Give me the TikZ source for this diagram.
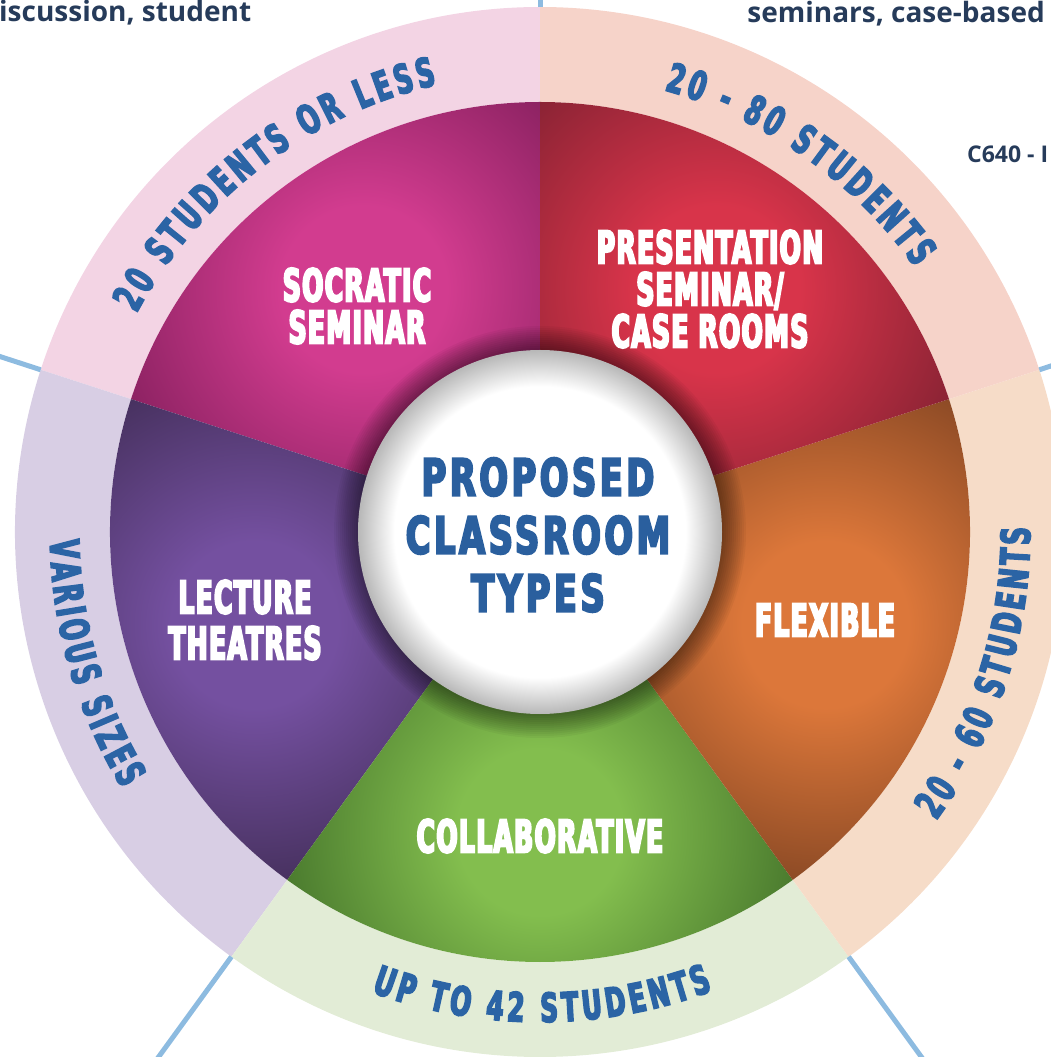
\documentclass[tikz,border=0pt]{standalone}
\usepackage{fontspec}
\usetikzlibrary{decorations.text}

\newfontfamily\wedgefont{DejaVu Sans}[FakeStretch=0.555, FakeBold=4.5, LetterSpace=3]
\newfontfamily\hubfont{DejaVu Sans}[FakeStretch=0.66, FakeBold=4, LetterSpace=7]
\newfontfamily\ringfont{DejaVu Sans}[FakeStretch=0.62, FakeBold=4]
\newfontfamily\notefont{Open Sans}

\definecolor{socraticlight}{HTML}{D23C8F}
\definecolor{socraticdark}{HTML}{8C2262}
\definecolor{presentlight}{HTML}{D8344A}
\definecolor{presentdark}{HTML}{8A2334}
\definecolor{flexlight}{HTML}{DC773A}
\definecolor{flexdark}{HTML}{8C4A25}
\definecolor{collablight}{HTML}{83BE4E}
\definecolor{collabdark}{HTML}{4A7A2E}
\definecolor{lecturelight}{HTML}{7450A0}
\definecolor{lecturedark}{HTML}{47315F}
\definecolor{ringpink}{HTML}{F3D4E4}
\definecolor{ringpeach}{HTML}{F6D3C9}
\definecolor{ringorange}{HTML}{F6DCC8}
\definecolor{ringgreen}{HTML}{E2ECD6}
\definecolor{ringlavender}{HTML}{D8CEE4}
\definecolor{hubblue}{HTML}{2A5F9E}
\definecolor{ringblue}{HTML}{2B64A5}
\definecolor{notenavy}{HTML}{263B5A}
\definecolor{spokeblue}{HTML}{8DBBE0}

\pgfdeclareradialshading[wlight,wdark]{wedgeshade}{\pgfpointorigin}{color(0bp)=(wlight); color(8bp)=(wlight); color(25bp)=(wdark); color(50bp)=(wdark)}
\pgfdeclareradialshading{discshade}{\pgfpointorigin}{color(0bp)=(white); color(20bp)=(white); color(25bp)=(black!28); color(50bp)=(black!28)}

% one coloured wedge with its pale band
\newcommand{\sectorfill}[5]{%
  \fill[#5] (#1:430) arc (#1:#2:430) -- (#2:525) arc (#2:#1:525) -- cycle;
  \begin{scope}
    \clip (0,0) -- (#1:430) arc (#1:#2:430) -- cycle;
    \colorlet{wlight}{#3}\colorlet{wdark}{#4}
    \path ({(#1+#2)/2}:300) coordinate (mid);
    \shade[shading=wedgeshade] (mid) ++(-260,-260) rectangle ++(520,520);
  \end{scope}}

\tikzset{
  wedgelabel/.style={text=white, align=center, inner sep=0pt,
    font=\wedgefont\bfseries\fontsize{45}{42}\selectfont},
  hublabel/.style={text=hubblue, align=center, inner sep=0pt,
    font=\hubfont\bfseries\fontsize{51}{58}\selectfont},
  note/.style={text=notenavy, inner sep=0pt,
    font=\notefont\bfseries\fontsize{28}{32}\selectfont},
  spoke/.style={spokeblue, line width=5pt},
  ringtext/.style={decorate, decoration={text along path, text align=center,
    text={|\ringfont\bfseries\fontsize{40}{40}\selectfont\color{ringblue}\kern4pt|#1}}}
}

\begin{document}
\begin{tikzpicture}[x=1pt, y=1pt]
\useasboundingbox (-540,-525) rectangle (511,532);
\clip (-540,-525) rectangle (511,532);

\sectorfill{90}{162}{socraticlight}{socraticdark}{ringpink}
\sectorfill{162}{234}{lecturelight}{lecturedark}{ringlavender}
\sectorfill{234}{306}{collablight}{collabdark}{ringgreen}
\sectorfill{306}{378}{flexlight}{flexdark}{ringorange}
\sectorfill{18}{90}{presentlight}{presentdark}{ringpeach}

% shadow round the centre disc
\foreach \r in {184,186,...,206}
  \fill[black, opacity=0.04] (0,0) circle (\r);
\shade[shading=discshade] (0,0) circle (182);

% spokes leaving the ring
\foreach \a [count=\i] in {90,162,234,306,18} {
  \coordinate (spokein\i) at (\a:525);
  \coordinate (spokeout\i) at (\a:720);
  \draw[spoke] (spokein\i) -- (spokeout\i);
}

% band labels
\path[ringtext={20 STUDENTS OR LESS}] (167.5:459) arc (167.5:87.5:459);
\path[ringtext={20 - 80 STUDENTS}] (95:459) arc (95:15:459);
\path[ringtext={20 - 60 STUDENTS}] (-58:490) arc (-58:22:490);
\path[ringtext={UP TO 42 STUDENTS}] (230:490) arc (230:310:490);
\path[ringtext={VARIOUS SIZES}] (156:490) arc (156:236:490);

\node[wedgelabel] (socratic) at (-183,226) {SOCRATIC\\SEMINAR};
\node[wedgelabel] (presentation) at (170,243) {PRESENTATION\\SEMINAR/\\CASE ROOMS};
\node[wedgelabel, font=\wedgefont\bfseries\fontsize{45}{46}\selectfont] (lecture) at (-295,-88) {LECTURE\\THEATRES};
\node[wedgelabel] (flexible) at (285,-88) {FLEXIBLE};
\node[wedgelabel] (collab) at (0,-304) {COLLABORATIVE};

\node[hublabel] (hub) at (-2,-3) {PROPOSED\\CLASSROOM\\TYPES};

\node[note, anchor=base west] (noteleft) at (-541,510) {iscussion, student};
\node[note, anchor=base east] (noteright) at (505,509) {seminars, case-based};
\node[note, anchor=base west, font=\notefont\bfseries\fontsize{23}{26}\selectfont] (noteref) at (427,369) {C640 - I};
\end{tikzpicture}
\end{document}
